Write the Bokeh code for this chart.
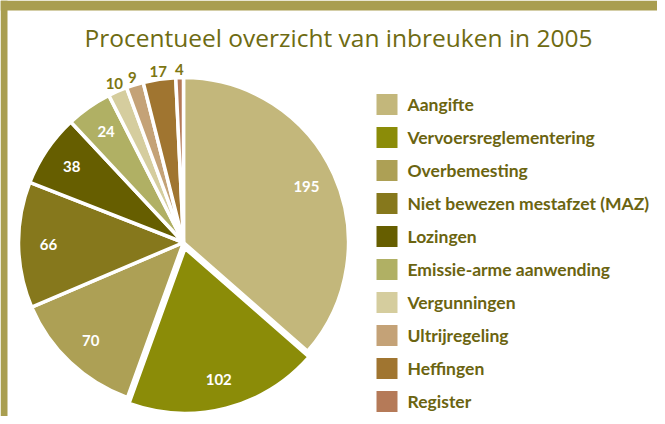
import math
from bokeh.plotting import figure
from bokeh.models import Range1d, ColumnDataSource
from bokeh.core.properties import value
from bokeh.embed import file_html
from bokeh.resources import INLINE

# ---- data ----
title_text = "Procentueel overzicht van inbreuken in 2005"
categories = ["Aangifte", "Vervoersreglementering", "Overbemesting",
              "Niet bewezen mestafzet (MAZ)", "Lozingen", "Emissie-arme aanwending",
              "Vergunningen", "Ultrijregeling", "Heffingen", "Register"]
counts = [195, 102, 70, 66, 38, 24, 10, 9, 17, 4]
colors = ["#C3B77B", "#8B8C08", "#ADA055", "#86781C", "#665E00",
          "#B0B064", "#D5CD9E", "#C4A277", "#A07530", "#B57A58"]
exploded = "Vervoersreglementering"

# ---- style / layout constants (data units = screen px, y measured upward) ----
W, H = 657, 416
TOP = 424
CX, CY = 183, TOP - 242      # pie centre
R = 165
EXPLODE = 6
INNER_LABEL_R = 135
OUTER_LABEL_R = 173
SMALL = 20                    # counts below this are labelled outside
BORDER = "#A99E50"
TITLE_COL = "#6E6B12"
TEXT_COL = "#6B6410"
FONT = "Lato"

p = figure(width=W, height=H, output_backend="svg", toolbar_location=None,
           x_range=Range1d(0, W), y_range=Range1d(TOP - H, TOP),
           min_border=0, outline_line_color=None)
p.axis.visible = False
p.grid.visible = False
p.background_fill_color = "white"
p.border_fill_color = "white"

# olive frame bands (top and left)
p.quad(left=[0, 0], right=[W, 7], bottom=[TOP - 10, 0], top=[TOP, TOP],
       fill_color=BORDER, line_color=None)

total = sum(counts)
starts, ends, xs, ys = [], [], [], []
lx, ly, ltxt = [], [], []
ox, oy, otxt = [], [], []
cum = 0
for cat, c in zip(categories, counts):
    a0 = math.pi / 2 - 2 * math.pi * cum / total
    a1 = math.pi / 2 - 2 * math.pi * (cum + c) / total
    mid = (a0 + a1) / 2
    off = EXPLODE if cat == exploded else 0
    cx = CX + off * math.cos(mid)
    cy = CY + off * math.sin(mid)
    starts.append(a0); ends.append(a1); xs.append(cx); ys.append(cy)
    if c >= SMALL:
        lx.append(cx + INNER_LABEL_R * math.cos(mid))
        ly.append(cy + INNER_LABEL_R * math.sin(mid))
        ltxt.append(str(c))
    else:
        ox.append(cx + OUTER_LABEL_R * math.cos(mid))
        oy.append(cy + OUTER_LABEL_R * math.sin(mid))
        otxt.append(str(c))
    cum += c

src = ColumnDataSource(dict(x=xs, y=ys, start=starts, end=ends, color=colors))
p.wedge(x="x", y="y", radius=R, start_angle="start", end_angle="end",
        direction="clock", fill_color="color", line_color="white", line_width=3.5,
        source=src)

p.text(x=lx, y=ly, text=ltxt, text_color="white", text_font=value(FONT),
       text_font_style="bold", text_font_size="15px",
       text_align="center", text_baseline="middle")
p.text(x=ox, y=oy, text=otxt, text_color="#7D7612", text_font=value(FONT),
       text_font_style="bold", text_font_size="15px",
       text_align="center", text_baseline="middle")

# title
p.text(x=[338], y=[TOP - 37], text=[title_text], text_color=TITLE_COL,
       text_font=value("Open Sans"), text_font_size="24.5px",
       text_align="center", text_baseline="middle")

# legend
LEG_X, LEG_Y0, LEG_DY, SW = 386.5, TOP - 104, 33, 21
ly_leg = [LEG_Y0 - i * LEG_DY for i in range(len(categories))]
p.rect(x=[LEG_X] * len(categories), y=ly_leg, width=SW, height=SW,
       fill_color=colors, line_color=None)
p.text(x=[407] * len(categories), y=ly_leg, text=categories, text_color=TEXT_COL,
       text_font=value(FONT), text_font_style="bold", text_font_size="17.5px",
       text_align="left", text_baseline="middle")

open("out.html", "w").write(file_html(p, INLINE))
